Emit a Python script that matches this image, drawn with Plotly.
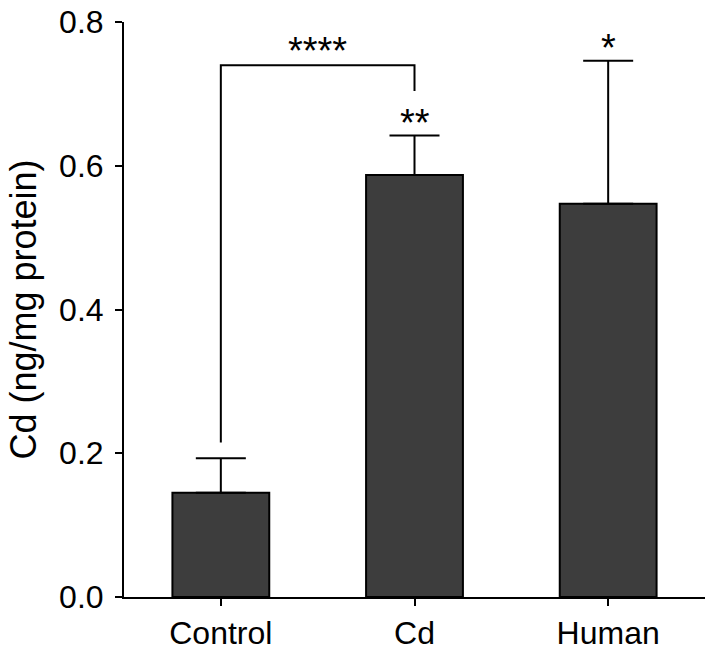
import plotly.graph_objects as go

categories = ["Control", "Cd", "Human"]
means = [0.145, 0.587, 0.547]
errors = [0.048, 0.055, 0.199]
stars = ["", "**", "*"]
bracket_label = "****"
bracket_y = 0.740
bracket_left_end = 0.215
bracket_right_end = 0.704
y_ticks = [0.0, 0.2, 0.4, 0.6, 0.8]
y_title = "Cd (ng/mg protein)"

FONT = "Arial, Liberation Sans, Helvetica, sans-serif"

fig = go.Figure()
fig.add_trace(go.Bar(
    x=categories, y=means, width=0.5,
    marker=dict(color="#3d3d3d", line=dict(color="black", width=2)),
    error_y=dict(type="data", array=errors, arrayminus=[0]*len(errors),
                 symmetric=False, color="black", thickness=2, width=25),
    showlegend=False,
))

# significance bracket between Control and Cd
fig.add_shape(type="path",
              path=f"M 0 {bracket_left_end} L 0 {bracket_y} L 1 {bracket_y} L 1 {bracket_right_end}",
              xref="x", yref="y", line=dict(color="black", width=2))

fig.add_annotation(x=0.5, y=bracket_y, text=bracket_label, showarrow=False,
                   xref="x", yref="y", yanchor="middle", yshift=14,
                   font=dict(size=38, color="black", family=FONT))
for i, s in enumerate(stars):
    if s:
        fig.add_annotation(x=i, y=means[i] + errors[i], text=s, showarrow=False,
                           xref="x", yref="y", yanchor="middle", yshift=13,
                           font=dict(size=38, color="black", family=FONT))

fig.update_layout(
    width=709, height=655,
    margin=dict(l=124, r=4, t=21, b=53),
    paper_bgcolor="white", plot_bgcolor="white",
    font=dict(family=FONT, size=32, color="black"),
    xaxis=dict(range=[-0.5, 2.5], showline=True, linecolor="black", linewidth=2,
               ticks="outside", ticklen=7, tickwidth=2, tickcolor="black",
               showgrid=False, zeroline=False, tickfont=dict(size=32)),
    yaxis=dict(range=[0, 0.8], tickvals=y_ticks, ticktext=[f"{v:.1f}" for v in y_ticks],
               showline=True, linecolor="black", linewidth=2,
               ticks="outside", ticklen=7, tickwidth=2, tickcolor="black",
               showgrid=False, zeroline=False, tickfont=dict(size=32),
               ticklabelstandoff=5,
               title=dict(text=y_title, font=dict(size=36), standoff=12)),
)

fig.write_html("out.html", config={"displayModeBar": False},
               post_script="document.body.style.margin='0';")
